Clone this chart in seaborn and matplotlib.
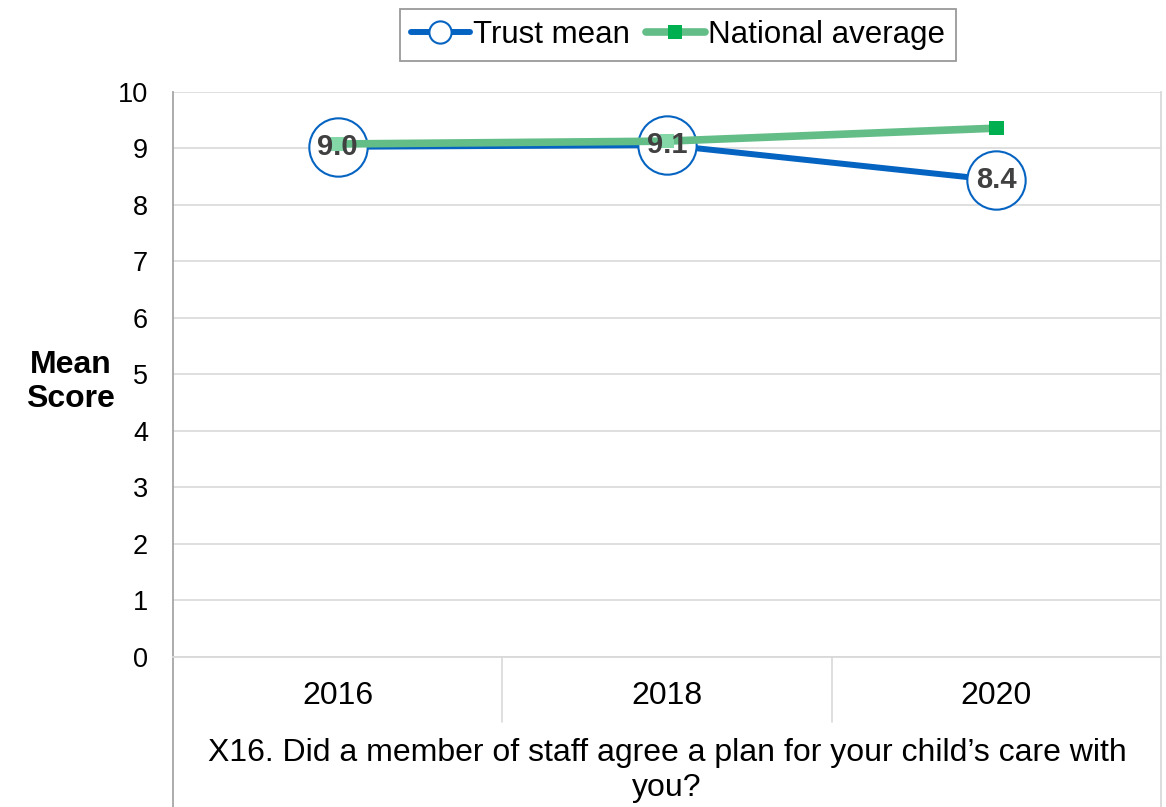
import matplotlib
matplotlib.use("Agg")
import matplotlib.pyplot as plt
from matplotlib.lines import Line2D
import seaborn as sns
import pandas as pd

years = ["2016", "2018", "2020"]
trust_mean = [9.03, 9.06, 8.44]
national_average = [9.08, 9.13, 9.36]
question = "X16. Did a member of staff agree a plan for your child\u2019s care with\nyou?"

sns.set_theme(style="white")
plt.rcParams["font.family"] = ["Liberation Sans", "DejaVu Sans"]
plt.rcParams["text.color"] = "black"
plt.rcParams["axes.labelcolor"] = "black"
plt.rcParams["xtick.color"] = "black"
plt.rcParams["ytick.color"] = "black"

BLUE = "#0563C1"
GREEN_LINE = "#62BD87"
GREEN_MARK = "#00B050"
GRID = "#D9D9D9"

df = pd.DataFrame({"year": years, "trust": trust_mean, "national": national_average})

fig = plt.figure(figsize=(11.66, 8.07), dpi=100)
ax = fig.add_axes([0.1484, 0.1859, 0.8473, 0.7001])

# Trust mean: thick blue line with large hollow circles
sns.lineplot(data=df, x="year", y="trust", ax=ax, color=BLUE, linewidth=4.3,
             marker="o", markersize=42, markerfacecolor="white",
             markeredgecolor=BLUE, markeredgewidth=1.5, zorder=3, sort=False)

# National average: green line with square markers
sns.lineplot(data=df, x="year", y="national", ax=ax, color=GREEN_LINE, linewidth=5.5,
             zorder=4, sort=False)
mark_colors = ["#84D8A8", "#84D8A8", GREEN_MARK]
ax.scatter(range(len(years)), national_average, marker="s", s=110,
           c=mark_colors, linewidths=0, zorder=5)

# Value labels inside the circles
for i, v in enumerate(trust_mean):
    ax.text(i, v, f"{v:.1f}", ha="center", va="center", fontsize=21,
            fontweight="bold", color="#404040", zorder=6)

ax.set_xlim(-0.5, len(years) - 0.5)
ax.set_ylim(0, 10)
ax.set_yticks(range(0, 11))
ax.set_xticks(range(len(years)))
ax.set_xticklabels(years, fontsize=23)
ax.tick_params(axis="y", labelsize=19.5, length=0, pad=18)
ax.tick_params(axis="x", length=0, pad=17)
ax.yaxis.grid(True, color=GRID, linewidth=1.2)
ax.set_axisbelow(True)
ax.set_xlabel(question, fontsize=23, labelpad=20, linespacing=1.2)
ax.set_ylabel("Mean\nScore", fontsize=23, fontweight="bold", rotation=0,
              ha="center", va="center", linespacing=1.15)
ax.yaxis.set_label_coords(-0.104, 0.487)

ax.spines["top"].set_visible(False)
ax.spines["left"].set_color("#A6A6A6")
ax.spines["left"].set_linewidth(1.3)
ax.spines["bottom"].set_color(GRID)
ax.spines["bottom"].set_linewidth(1.3)
ax.spines["right"].set_color(GRID)
ax.spines["right"].set_linewidth(1.3)

# Table-style category separators beneath the axis
trans = ax.get_xaxis_transform()
for x in [0.5, 1.5]:
    ax.add_line(Line2D([x, x], [0, -0.115], transform=trans, color=GRID,
                       linewidth=1.2, clip_on=False))
ax.add_line(Line2D([-0.5, -0.5], [0, -0.27], transform=trans, color="#A6A6A6",
                   linewidth=1.3, clip_on=False))
ax.add_line(Line2D([2.5, 2.5], [0, -0.27], transform=trans, color=GRID,
                   linewidth=1.3, clip_on=False))

handles = [
    Line2D([], [], color=BLUE, linewidth=4.3, marker="o", markersize=16,
           markerfacecolor="white", markeredgecolor=BLUE, markeredgewidth=1.5),
    Line2D([], [], color=GREEN_LINE, linewidth=5.5, marker="s", markersize=10,
           markerfacecolor=GREEN_MARK, markeredgewidth=0),
]
leg = fig.legend(handles, ["Trust mean", "National average"], loc="upper center",
                 bbox_to_anchor=(0.5815, 1.0), ncol=2, fontsize=22.5,
                 frameon=True, fancybox=False, edgecolor="#808080",
                 handlelength=1.9, handletextpad=0.1, columnspacing=0.5,
                 borderpad=0.35, borderaxespad=0.3)
leg.get_frame().set_linewidth(1.3)

fig.savefig("out.png", dpi=100, facecolor="white")
